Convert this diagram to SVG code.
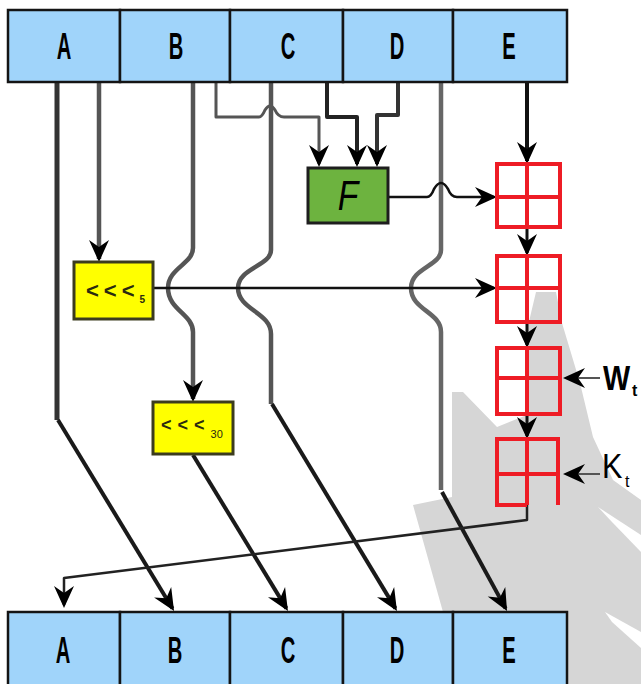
<svg xmlns="http://www.w3.org/2000/svg" width="641" height="684" viewBox="0 0 641 684">
  <style>
    .reg { fill: #a0d4fa; stroke: #141414; stroke-width: 2.5; }
    .regtxt { font-family: "Liberation Sans", Arial, sans-serif; font-weight: bold; font-size: 36px; fill: #000; text-anchor: middle; }
    .rot { fill: #ffff00; stroke: #3c3c1e; stroke-width: 3; }
    .rottxt { font-family: "Liberation Sans", Arial, sans-serif; font-weight: bold; fill: #2a2a10; }
    .add { fill: none; stroke: #ee1c25; stroke-width: 4; }
    .w { fill: none; stroke-linejoin: round; }
    .lbl { font-family: "Liberation Sans", Arial, sans-serif; fill: #000; }
  </style>
  <defs>
    <marker id="ah" viewBox="-24 -11 27 22" refX="-3" refY="0" markerWidth="27" markerHeight="22" markerUnits="userSpaceOnUse" orient="auto">
      <path d="M0,0 L-22,-10 L-15,0 L-22,10 Z" fill="#000"/>
    </marker>
  </defs>

  <rect width="641" height="684" fill="#ffffff"/>

  <!-- faint grey emblem in the lower right background -->
  <g id="emblem" fill="#d6d6d6">
    <polygon points="536,292 556,292 562,323 580,383 593,437 613,480 641,500 641,684 440,684 443,612 413,505 452,497 452,392 463,392 497,427 527,415 527,330"/>
    <polygon points="598,507 641,535 641,552 612,522" fill="#ffffff"/>
    <polygon points="605,612 641,632 641,648 612,622" fill="#ffffff"/>
  </g>

  <!-- connectors -->
  <g id="connectors" class="w">
    <!-- A -->
    <path d="M57,82 V420" stroke="#333" stroke-width="5"/>
    <path d="M58,420 L172.5,608.5" stroke="#1a1a1a" stroke-width="4" marker-end="url(#ah)"/>
    <path d="M99,82 V259" stroke="#555" stroke-width="4.5" marker-end="url(#ah)"/>
    <!-- B -->
    <path d="M193,82 V248 C193,264 168,268 168,288 C168,310 193,314 193,332 V399" stroke="#555" stroke-width="4.5" marker-end="url(#ah)"/>
    <path d="M216,82 V117 H259 Q262,117 265,110 Q270,102 275,110 Q278,117 284,117 H319 V164" stroke="#555" stroke-width="3" marker-end="url(#ah)"/>
    <!-- C -->
    <path d="M271,82 V250 C271,266 238,268 238,288 C238,310 271,312 271,334 V404" stroke="#555" stroke-width="4.5"/>
    <path d="M272,404 L395.4,608.4" stroke="#1a1a1a" stroke-width="4" marker-end="url(#ah)"/>
    <path d="M327,82 V117 H357 V164" stroke="#222" stroke-width="4" marker-end="url(#ah)"/>
    <!-- D -->
    <path d="M398,82 V115 H377 V164" stroke="#333" stroke-width="4" marker-end="url(#ah)"/>
    <path d="M441,82 V250 C441,266 411,268 411,288 C411,310 441,312 441,332 V490" stroke="#666" stroke-width="4.5"/>
    <path d="M442,492 L505.6,608.4" stroke="#1a1a1a" stroke-width="4" marker-end="url(#ah)"/>
    <!-- E -->
    <path d="M527,82 V161" stroke="#111" stroke-width="4" marker-end="url(#ah)"/>
    <!-- rotated B output -->
    <path d="M193,455 L286.4,608.4" stroke="#1a1a1a" stroke-width="4" marker-end="url(#ah)"/>
    <!-- F output and A rotation output -->
    <path d="M388,197 H427 Q431,197 434,189 Q441,177 448,189 Q451,197 457,197 H494" stroke="#111" stroke-width="2.5" marker-end="url(#ah)"/>
    <path d="M153,288 H494" stroke="#111" stroke-width="2.5" marker-end="url(#ah)"/>
    <!-- adder chain -->
    <path d="M527,227 V253" stroke="#111" stroke-width="3" marker-end="url(#ah)"/>
    <path d="M527,322 V345" stroke="#111" stroke-width="3" marker-end="url(#ah)"/>
    <path d="M527,414 V436" stroke="#111" stroke-width="3" marker-end="url(#ah)"/>
    <path d="M600,378 H566" stroke="#555" stroke-width="1.8" marker-end="url(#ah)"/>
    <path d="M600,474 H566" stroke="#555" stroke-width="1.8" marker-end="url(#ah)"/>
    <!-- new A -->
    <path d="M527,505 V520 L64,578 V605" stroke="#222" stroke-width="2.5" marker-end="url(#ah)"/>
  </g>

  <!-- input registers -->
  <g id="in-A"><rect class="reg" x="8" y="10" width="112" height="72"/><text class="regtxt" transform="translate(64,59) scale(0.56,1)">A</text></g>
  <g id="in-B"><rect class="reg" x="120" y="10" width="110" height="72"/><text class="regtxt" transform="translate(176,59) scale(0.56,1)">B</text></g>
  <g id="in-C"><rect class="reg" x="230" y="10" width="113" height="72"/><text class="regtxt" transform="translate(288,59) scale(0.56,1)">C</text></g>
  <g id="in-D"><rect class="reg" x="343" y="10" width="110" height="72"/><text class="regtxt" transform="translate(397,59) scale(0.56,1)">D</text></g>
  <g id="in-E"><rect class="reg" x="453" y="10" width="114" height="72"/><text class="regtxt" transform="translate(509,59) scale(0.56,1)">E</text></g>

  <!-- round function -->
  <g id="F">
    <rect x="308" y="168" width="80" height="55" fill="#6db33f" stroke="#1e1e1e" stroke-width="3"/>
    <text class="lbl" font-style="italic" font-size="42" text-anchor="middle" transform="translate(348,210) scale(0.8,1)">F</text>
  </g>

  <!-- rotations -->
  <g id="rot5">
    <rect class="rot" x="74" y="262" width="79" height="57"/>
    <text class="rottxt" x="86" y="298" font-size="22" letter-spacing="5">&lt;&lt;&lt;<tspan font-size="10" dy="5" letter-spacing="0">5</tspan></text>
  </g>
  <g id="rot30">
    <rect class="rot" x="153" y="402" width="80" height="52"/>
    <text class="rottxt" x="161" y="431" font-size="18" letter-spacing="6">&lt;&lt;&lt;<tspan font-size="11" font-weight="normal" dy="7" letter-spacing="0">30</tspan></text>
  </g>

  <!-- modular adders -->
  <g id="add1" class="add"><rect x="497" y="164" width="63" height="63"/><path d="M527,164 V227 M497,197 H562"/></g>
  <g id="add2" class="add"><rect x="497" y="256" width="63" height="66"/><path d="M527,256 V322 M497,288 H562"/></g>
  <g id="add3" class="add"><rect x="497" y="348" width="63" height="66"/><path d="M527,348 V414 M497,378 H562"/></g>
  <g id="add4" class="add"><path d="M558,505 V439 H497 V505 H527 M527,439 V505 M497,474 H560"/></g>

  <!-- round inputs -->
  <g id="Wt"><text class="lbl" font-weight="bold" font-size="36" transform="translate(603,390) scale(0.8,1)">W</text><text class="lbl" font-weight="bold" font-size="16" x="632" y="396">t</text></g>
  <g id="Kt"><text class="lbl" font-size="36" transform="translate(602,478) scale(0.85,1)">K</text><text class="lbl" font-size="16" x="625" y="487">t</text></g>

  <!-- output registers -->
  <g id="out-A"><rect class="reg" x="8" y="612" width="112" height="80"/><text class="regtxt" transform="translate(63,663) scale(0.56,1)">A</text></g>
  <g id="out-B"><rect class="reg" x="120" y="612" width="110" height="80"/><text class="regtxt" transform="translate(175,663) scale(0.56,1)">B</text></g>
  <g id="out-C"><rect class="reg" x="230" y="612" width="113" height="80"/><text class="regtxt" transform="translate(288,663) scale(0.56,1)">C</text></g>
  <g id="out-D"><rect class="reg" x="343" y="612" width="110" height="80"/><text class="regtxt" transform="translate(397,663) scale(0.56,1)">D</text></g>
  <g id="out-E"><rect class="reg" x="453" y="612" width="114" height="80"/><text class="regtxt" transform="translate(509,663) scale(0.56,1)">E</text></g>
</svg>
